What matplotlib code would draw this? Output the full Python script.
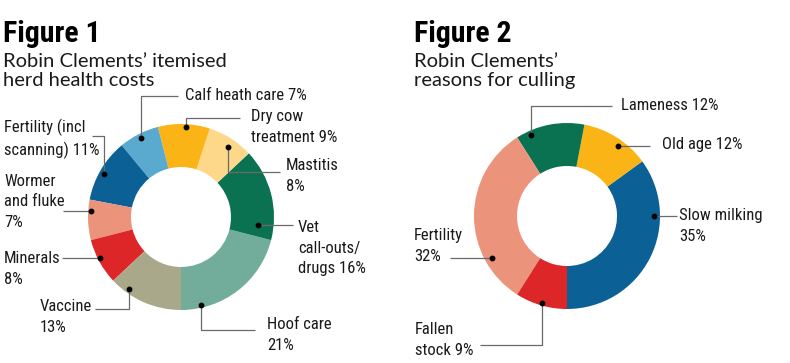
import numpy as np
import matplotlib
matplotlib.use("Agg")
import matplotlib.pyplot as plt

W, H = 790, 363

# Figure 1 - itemised herd health costs (counter-clockwise from 6 o'clock)
costs_labels = ["Hoof care\n21%", "Vet\ncall-outs/\ndrugs 16%", "Mastitis\n8%",
                "Dry cow\ntreatment 9%", "Calf heath care 7%",
                "Fertility (incl\nscanning) 11%", "Wormer\nand fluke\n7%",
                "Minerals\n8%", "Vaccine\n13%"]
costs_values = [21, 16, 8, 9, 7, 11, 7, 8, 13]
costs_colors = ["#72ad9c", "#0a7251", "#fdd78a", "#fbb416", "#5aa9cf",
                "#0b6195", "#ec937b", "#dc2627", "#aaa88a"]

# Figure 2 - reasons for culling
cull_labels = ["Slow milking\n35%", "Old age 12%", "Lameness 12%",
               "Fertility\n32%", "Fallen\nstock 9%"]
cull_values = [35, 12, 12, 32, 9]
cull_colors = ["#0b6195", "#fbb416", "#0a7251", "#ec937b", "#dc2627"]

# leader layout: (dot angle, dot radius, elbow y or None, line end x, text x, text y)
costs_layout = [(-77, 90, 330, 255, 267, 335),
                (-6, 77, None, 293, 298, 248),
                (56, 84, 172, 280, 286, 176),
                (87, 90, 118, 240, 251, 127),
                (117, 89, 96, 178, 185, 96),
                (151, 88, 136, 92, 4, 139),
                (176, 90, None, 63, 4, 202),
                (207, 91, None, 62, 4, 269),
                (234, 89, 309, 95, 40, 317)]
cull_layout = [(0, 87, None, 677, 679, 226),
               (54, 87, None, 650, 662, 144),
               (114, 89, 106, 612, 621, 105),
               (209, 86, None, 450, 414, 246),
               (254, 90, 345, 480, 415, 340)]

NARROW = ["DejaVu Sans Condensed", "Liberation Sans Narrow", "Roboto Condensed",
          "Noto Sans", "DejaVu Sans"]
SUB_FONT = ["Lato", "DejaVu Sans"]

fig = plt.figure(figsize=(W / 100, H / 100), dpi=100)
ax = fig.add_axes([0, 0, 1, 1])


def donut(vals, cols, labels, layout, cx, cy, R=93, width=43):
    ax.pie(vals, colors=cols, startangle=-90, counterclock=True, radius=R,
           center=(cx, H - cy), frame=True,
           wedgeprops=dict(width=width, linewidth=0))
    for lab, (ang, r, ey, ex, tx, ty) in zip(labels, layout):
        dx = cx + r * np.cos(np.radians(ang))
        dy = cy - r * np.sin(np.radians(ang))
        if ey is None:
            xs, ys = [dx, ex], [dy, dy]
        else:
            xs, ys = [dx, dx, ex], [dy, ey, ey]
        ax.plot(xs, [H - y for y in ys], color="#6a6a6a", lw=0.9,
                solid_capstyle="butt", zorder=3)
        ax.plot(dx, H - dy, "o", color="black", ms=3.2, zorder=4)
        ax.text(tx, H - ty, lab, ha="left", va="center", fontsize=12,
                family=NARROW, stretch="condensed", color="#1a1a1a",
                linespacing=1.42)


donut(costs_values, costs_colors, costs_labels, costs_layout, 181, 217)
donut(cull_values, cull_colors, cull_labels, cull_layout, 567, 216)

# titles
for x0, sub in [(3, "Robin Clements\u2019 itemised\nherd health costs"),
                (414, "Robin Clements\u2019\nreasons for culling")]:
    ax.text(x0, H - 34, "Figure %d" % (1 if x0 < 400 else 2), fontsize=21.5,
            fontweight="heavy", family=NARROW, stretch="condensed",
            va="center", ha="left", color="black")
    ax.text(x0, H - 71, sub, fontsize=14.5, family=SUB_FONT, va="center",
            ha="left", color="#1a1a1a", linespacing=1.2)

ax.set_xlim(0, W)
ax.set_ylim(0, H)
ax.set_aspect("auto")
ax.axis("off")

fig.savefig("out.png", dpi=100, facecolor="white")
